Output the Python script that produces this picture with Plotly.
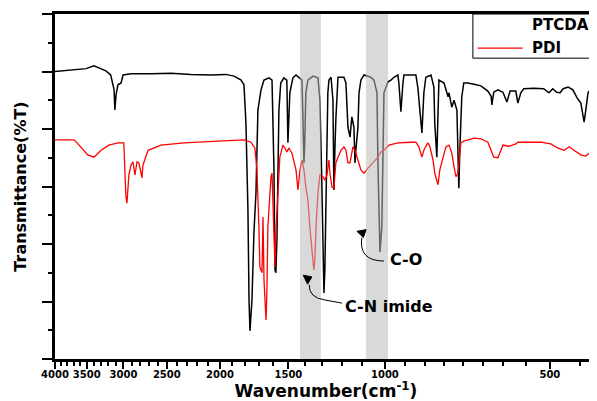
import plotly.graph_objects as go

# ---- data ----
ptcda_wn = [4000, 3800, 3510, 3395, 3325, 3230, 3165, 3120, 3110, 3095, 3070, 3030, 3005, 2905, 2670,
            2455, 2260, 2075, 1950, 1885, 1830, 1808, 1793, 1778, 1770, 1763, 1748, 1734, 1719, 1712,
            1705, 1683, 1662, 1627, 1607, 1600, 1594, 1587, 1581, 1574, 1568, 1561, 1549, 1529, 1510,
            1503, 1491, 1472, 1453, 1435, 1417, 1411, 1405, 1400, 1394, 1382, 1353, 1325, 1314, 1303,
            1298, 1292, 1287, 1281, 1271, 1265, 1254, 1244, 1239, 1234, 1229, 1218, 1188, 1178, 1168,
            1158, 1149, 1139, 1134, 1130, 1120, 1115, 1106, 1092, 1061, 1047, 1034, 1030, 1025, 1021,
            1013, 1008, 1004, 987, 975, 963, 947, 943, 935, 927, 923, 897, 878, 871, 863,
            856, 849, 842, 824, 814, 811, 804, 797, 780, 767, 764, 755, 748, 739, 736,
            733, 730, 724, 718, 706, 688, 668, 649, 640, 638, 633, 622, 609, 599, 591,
            577, 572, 565, 558, 535, 513, 502, 494, 486, 479, 473, 463, 454, 446, 439,
            433, 430, 426, 421, 410, 400]
ptcda_t = [5.00, 5.02, 5.05, 5.10, 5.06, 5.01, 4.94, 4.68, 4.33, 4.59, 4.77, 4.80, 4.94, 4.96, 4.96,
           4.97, 4.95, 4.94, 4.95, 4.92, 4.85, 4.77, 4.10, 2.59, 1.03, 0.49, 1.03, 2.19, 2.89, 3.76,
           4.33, 4.68, 4.85, 4.89, 4.85, 4.03, 3.29, 1.55, 1.50, 2.10, 3.46, 4.33, 4.80, 4.89, 4.85,
           3.76, 4.63, 4.89, 4.94, 4.90, 4.85, 4.16, 3.41, 3.81, 4.63, 4.85, 4.92, 4.89, 4.50, 2.99,
           1.90, 1.15, 1.55, 3.06, 4.63, 4.85, 4.90, 4.50, 2.94, 3.63, 4.16, 4.90, 4.90, 4.80, 4.03,
           3.86, 4.21, 4.03, 3.41, 3.63, 4.03, 4.63, 4.85, 4.94, 4.90, 4.85, 4.63, 3.46, 2.42, 1.86,
           2.30, 3.46, 4.63, 4.82, 4.85, 4.90, 4.94, 4.80, 4.30, 4.80, 4.94, 4.94, 4.94, 4.73, 4.28,
           3.93, 4.63, 4.90, 4.94, 4.73, 4.10, 3.51, 4.85, 4.80, 4.56, 4.63, 4.38, 4.50, 4.33, 3.63,
           2.97, 3.63, 4.56, 4.80, 4.80, 4.78, 4.75, 4.66, 4.57, 4.42, 4.64, 4.68, 4.64, 4.47, 4.66,
           4.66, 4.45, 4.63, 4.70, 4.71, 4.70, 4.63, 4.70, 4.64, 4.63, 4.70, 4.73, 4.68, 4.54, 4.45,
           4.12, 4.33, 4.63, 4.70, 4.78, 4.80]

pdi_wn = [4000, 3690, 3590, 3485, 3395, 3295, 3190, 3070, 2995, 2980, 2970, 2956, 2944, 2932, 2907,
          2883, 2858, 2834, 2811, 2775, 2764, 2729, 2706, 2562, 2326, 2017, 1808, 1756, 1727, 1712,
          1705, 1698, 1691, 1676, 1669, 1662, 1648, 1642, 1635, 1621, 1614, 1607, 1594, 1587, 1581,
          1568, 1555, 1535, 1522, 1510, 1497, 1478, 1466, 1453, 1441, 1429, 1417, 1405, 1394, 1382,
          1371, 1359, 1348, 1342, 1336, 1325, 1314, 1298, 1287, 1276, 1265, 1260, 1249, 1239, 1229,
          1218, 1203, 1188, 1178, 1168, 1158, 1144, 1134, 1120, 1106, 1092, 1074, 1052, 1030, 1017,
          1004, 983, 947, 897, 878, 867, 856, 849, 835, 828, 817, 811, 800, 794, 784,
          774, 764, 755, 748, 742, 736, 727, 718, 688, 668, 649, 640, 633, 622, 617,
          609, 594, 577, 572, 519, 498, 484, 471, 461, 452, 439, 430, 421, 416, 409, 400]
pdi_t = [3.81, 3.81, 3.69, 3.55, 3.51, 3.63, 3.72, 3.76, 3.76, 3.29, 2.85, 2.71, 2.94, 3.20, 3.37,
         3.43, 3.20, 3.43, 3.41, 3.15, 3.37, 3.55, 3.63, 3.72, 3.76, 3.79, 3.81, 3.77, 3.67, 3.29,
         2.89, 2.30, 1.60, 1.50, 2.47, 1.37, 0.68, 1.15, 2.30, 2.89, 3.17, 3.23, 2.30, 1.60, 2.19,
         2.99, 3.51, 3.72, 3.67, 3.60, 3.67, 3.58, 3.46, 3.29, 2.94, 3.29, 3.46, 3.29, 2.99, 2.77,
         2.30, 1.84, 1.55, 1.72, 2.30, 2.89, 3.20, 3.17, 3.11, 3.20, 3.46, 3.23, 2.99, 2.97, 3.41,
         3.51, 3.63, 3.69, 3.63, 3.41, 3.41, 3.69, 3.63, 3.46, 3.29, 3.23, 3.32, 3.41, 3.51, 3.60,
         3.63, 3.72, 3.76, 3.77, 3.77, 3.69, 3.51, 3.63, 3.76, 3.70, 3.46, 3.23, 3.03, 3.29, 3.51,
         3.69, 3.72, 3.58, 3.34, 3.17, 3.23, 3.76, 3.79, 3.84, 3.83, 3.77, 3.63, 3.51, 3.50, 3.58,
         3.72, 3.70, 3.74, 3.77, 3.77, 3.74, 3.67, 3.63, 3.69, 3.63, 3.55, 3.53, 3.60, 3.69, 3.69, 3.69]

major_ticks = [4000, 3500, 3000, 2500, 2000, 1500, 1000, 500]
major_labels = ["4000", "3500", "3000", "2500", "2000", "1500", "1000", "500"]
minor_ticks = [3900, 3800, 3700, 3600, 3400, 3300, 3200, 3100, 2900, 2800, 2700, 2600,
               2400, 2300, 2200, 2100, 1900, 1800, 1700, 1600, 1400, 1300, 1200, 1100,
               920, 845, 780, 720, 663, 609, 553, 441]

bands = [(1429, 1309), (1083, 987)]
series_names = ["PTCDA", "PDI"]

FONT = "DejaVu Sans"

fig = go.Figure()
fig.add_trace(go.Scatter(x=ptcda_wn, y=ptcda_t, mode="lines", name=series_names[0],
                         line=dict(color="black", width=1.5), showlegend=False))
fig.add_trace(go.Scatter(x=pdi_wn, y=pdi_t, mode="lines", name=series_names[1],
                         line=dict(color="red", width=1.3), showlegend=False))

# highlighted bands (drawn above traces, semi-transparent)
for x0, x1 in bands:
    fig.add_shape(type="rect", xref="x", yref="paper", x0=x0, x1=x1, y0=0, y1=1,
                  fillcolor="rgb(185,185,185)", opacity=0.54, line_width=0, layer="above")

# legend box (manual, as in the reference)
fig.add_shape(type="rect", xref="paper", yref="paper", x0=0.771, x1=1.05, y0=0.872, y1=1.0,
              line=dict(color="black", width=1), fillcolor="rgba(0,0,0,0)", layer="above")
fig.add_shape(type="line", xref="paper", yref="paper", x0=0.780, x1=0.863, y0=0.901, y1=0.901,
              line=dict(color="red", width=1.2))
fig.add_annotation(xref="paper", yref="paper", x=0.876, y=0.968, xanchor="left", yanchor="middle",
                   text="PTCDA", showarrow=False,
                   font=dict(family=FONT, size=15, color="black", weight="bold"))
fig.add_annotation(xref="paper", yref="paper", x=0.876, y=0.901, xanchor="left", yanchor="middle",
                   text="PDI", showarrow=False,
                   font=dict(family=FONT, size=15, color="black", weight="bold"))

# peak labels with curved arrows
fig.add_annotation(xref="paper", yref="paper", x=0.648, y=0.287, xanchor="center", yanchor="middle",
                   text="C-O", showarrow=False,
                   font=dict(family=FONT, size=16, color="black", weight="bold"))
fig.add_annotation(xref="paper", yref="paper", x=0.616, y=0.151, xanchor="center", yanchor="middle",
                   text="C-N imide", showarrow=False,
                   font=dict(family=FONT, size=16, color="black", weight="bold"))
fig.add_shape(type="path", xref="paper", yref="paper",
              path="M 0.607,0.284 Q 0.560,0.284 0.566,0.352",
              line=dict(color="black", width=1))
fig.add_shape(type="path", xref="paper", yref="paper",
              path="M 0.557,0.370 L 0.574,0.375 L 0.569,0.352 Z",
              line=dict(color="black", width=1), fillcolor="black")
fig.add_shape(type="path", xref="paper", yref="paper",
              path="M 0.5295,0.162 L 0.498,0.171 Q 0.468,0.178 0.469,0.215",
              line=dict(color="black", width=1))
fig.add_shape(type="path", xref="paper", yref="paper",
              path="M 0.458,0.243 L 0.474,0.238 L 0.466,0.217 Z",
              line=dict(color="black", width=1), fillcolor="black")

# the page body adds an 8px margin, so the figure is sized to fit the 597x401 window
fig.update_layout(
    width=589, height=393,
    margin=dict(l=47, r=0, t=6, b=42),
    paper_bgcolor="white", plot_bgcolor="white",
    showlegend=False,
    font=dict(family=FONT, color="black"),
)
fig.update_xaxes(
    type="log", range=[3.602, 2.613], showgrid=False, zeroline=False,
    showline=True, linecolor="black", linewidth=2.5, mirror=True,
    ticks="outside", ticklen=7, tickwidth=2, tickcolor="black",
    tickmode="array", tickvals=major_ticks, ticktext=major_labels, tickangle=0,
    ticklabelstandoff=-3,
    tickfont=dict(family=FONT, size=10, color="black", weight="bold"),
    minor=dict(tickmode="array", tickvals=minor_ticks, ticks="outside", ticklen=4,
               tickwidth=1.5, tickcolor="black", showgrid=False),
    title=dict(text="Wavenumber(cm<sup>-1</sup>)", standoff=5,
               font=dict(family=FONT, size=17, color="black", weight="bold")),
)
fig.update_yaxes(
    range=[0, 6], showgrid=False, zeroline=False,
    showline=True, linecolor="black", linewidth=2.5,
    ticks="outside", ticklen=10, tickwidth=2, tickcolor="black",
    dtick=1, showticklabels=False,
    minor=dict(dtick=0.5, ticks="outside", ticklen=4, tickwidth=2, tickcolor="black", showgrid=False),
    title=dict(text="Transmittance(%T)", standoff=12,
               font=dict(family=FONT, size=16, color="black", weight="bold")),
)

fig.write_html("out.html")
